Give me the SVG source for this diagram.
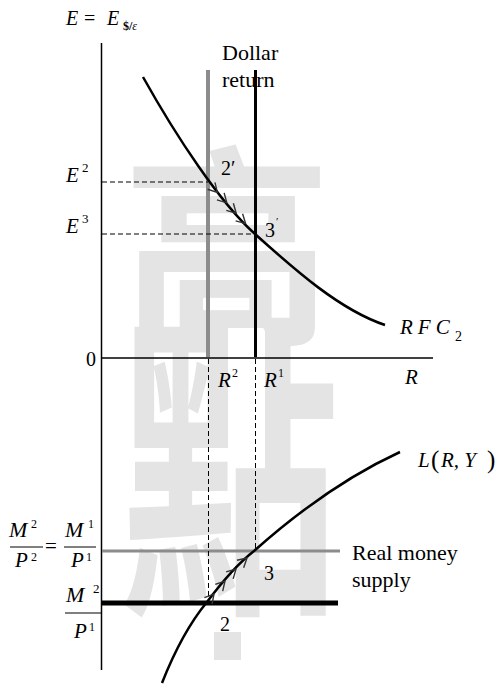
<svg xmlns="http://www.w3.org/2000/svg" width="498" height="688" viewBox="0 0 498 688">
<style>
  .ax { stroke: #000; stroke-width: 1.5; fill: none; }
  .dash { stroke: #000; stroke-width: 1; stroke-dasharray: 5 3; fill: none; }
  .curve { stroke: #000; stroke-width: 2.5; fill: none; }
  .chev { stroke: #333; stroke-width: 1.4; fill: none; }
  .bar { stroke: #000; stroke-width: 1; }
</style>
<defs>
  <path id="chev" d="M-9,-5 L0,0 L-9,5" class="chev"/>
</defs>
<rect width="498" height="688" fill="#fff"/>

<g id="watermark" fill="#e4e4e4">
  <text font-family="Noto Sans CJK SC" font-weight="700" text-anchor="middle" font-size="210" transform="translate(227,327.5) scale(1,1.02)">高</text>
  <text font-family="Noto Sans CJK SC" font-weight="700" text-anchor="middle" font-size="220" transform="translate(230,588.7) scale(1,1.453)">點</text>
  <rect x="214" y="632" width="27" height="28"/>
</g>

<g id="axes">
  <line class="ax" x1="101.5" y1="43" x2="101.5" y2="670"/>
  <line class="ax" x1="101" y1="358" x2="433" y2="358"/>
</g>

<g id="dollar-return">
  <line x1="208" y1="70" x2="208" y2="357" stroke="#8c8c8c" stroke-width="4"/>
  <line x1="255.5" y1="70" x2="255.5" y2="357" stroke="#000" stroke-width="3"/>
</g>

<g id="money-supply">
  <line x1="102" y1="551" x2="340" y2="551" stroke="#8c8c8c" stroke-width="3"/>
  <line x1="102" y1="603" x2="338" y2="603" stroke="#000" stroke-width="5"/>
</g>

<g id="connectors">
  <line class="dash" x1="102" y1="182" x2="208" y2="182"/>
  <line class="dash" x1="102" y1="234" x2="255" y2="234"/>
  <line class="dash" x1="208.5" y1="359" x2="208.5" y2="598"/>
  <line class="dash" x1="255.5" y1="359" x2="255.5" y2="550"/>
</g>

<g id="rfc-curve">
  <path class="curve" d="M143,77 C176,136 220,203 255,234 C295,270 340,310 385,325"/>
  <use href="#chev" transform="translate(217.4,192.4) rotate(47)"/>
  <use href="#chev" transform="translate(226.8,202.8) rotate(46)"/>
  <use href="#chev" transform="translate(236.2,213.2) rotate(45)"/>
  <use href="#chev" transform="translate(245.6,223.6) rotate(44)"/>
</g>

<g id="l-curve">
  <path class="curve" d="M162,683 C175,650 188,625 207,602 C222,582 236,565 254,551 C300,510 350,475 400,452"/>
  <use href="#chev" transform="translate(214,594) rotate(-50)"/>
  <use href="#chev" transform="translate(225,581) rotate(-48)"/>
  <use href="#chev" transform="translate(236,569) rotate(-45)"/>
  <use href="#chev" transform="translate(247,558) rotate(-42)"/>
</g>

<g id="labels" fill="#000">
  <text font-family="Liberation Serif" font-size="20" x="66" y="25" font-style="italic">E</text>
  <text font-family="Liberation Serif" font-size="20" x="84" y="25">=</text>
  <text font-family="Liberation Serif" font-size="20" x="107" y="25" font-style="italic">E</text>
  <text font-family="Liberation Serif" font-size="12" x="123" y="30" font-weight="bold">$/<tspan font-style="italic" font-weight="normal">ε</tspan></text>

  <text font-family="Liberation Serif" font-size="22" x="222" y="60">Dollar</text>
  <text font-family="Liberation Serif" font-size="22" x="222" y="87">return</text>

  <text font-family="Liberation Serif" font-size="21" x="66" y="182" font-style="italic">E</text>
  <text font-family="Liberation Serif" font-size="13" x="82" y="172">2</text>
  <text font-family="Liberation Serif" font-size="21" x="66" y="233" font-style="italic">E</text>
  <text font-family="Liberation Serif" font-size="13" x="82" y="223">3</text>

  <text font-family="Liberation Serif" font-size="20" x="221" y="175">2′</text>
  <text font-family="Liberation Serif" font-size="20" x="265" y="237">3</text>
  <text font-family="Liberation Serif" font-size="11" x="276" y="225">′</text>

  <text font-family="Liberation Serif" font-size="20" x="86" y="366">0</text>
  <text font-family="Liberation Serif" font-size="21" x="218" y="387" font-style="italic">R</text>
  <text font-family="Liberation Serif" font-size="12" x="232" y="377">2</text>
  <text font-family="Liberation Serif" font-size="21" x="264" y="387" font-style="italic">R</text>
  <text font-family="Liberation Serif" font-size="12" x="278" y="377">1</text>
  <text font-family="Liberation Serif" font-size="21" x="405" y="384" font-style="italic">R</text>

  <text font-family="Liberation Serif" font-size="21" x="400" y="334" font-style="italic" letter-spacing="5">RFC</text>
  <text font-family="Liberation Serif" font-size="14" x="455" y="341">2</text>

  <text font-family="Liberation Serif" font-size="21" x="418" y="467" font-style="italic">L</text>
  <text font-family="Liberation Serif" font-size="25" x="431" y="468">(</text>
  <text font-family="Liberation Serif" font-size="21" x="441" y="467" font-style="italic">R, Y</text>
  <text font-family="Liberation Serif" font-size="25" x="487" y="468">)</text>

  <text font-family="Liberation Serif" font-size="22" x="352" y="560">Real money</text>
  <text font-family="Liberation Serif" font-size="22" x="352" y="587">supply</text>

  <text font-family="Liberation Serif" font-size="20" x="264" y="580">3</text>
  <text font-family="Liberation Serif" font-size="20" x="220" y="631">2</text>
</g>

<g id="fractions" fill="#000">
  <text font-family="Liberation Serif" font-size="22" x="9" y="537" font-style="italic">M</text>
  <text font-family="Liberation Serif" font-size="12" x="31" y="528">2</text>
  <line class="bar" x1="10" y1="547" x2="43" y2="547"/>
  <text font-family="Liberation Serif" font-size="21" x="15" y="567" font-style="italic">P</text>
  <text font-family="Liberation Serif" font-size="12" x="31" y="561">2</text>
  <text font-family="Liberation Serif" font-size="21" x="45" y="553">=</text>
  <text font-family="Liberation Serif" font-size="22" x="65" y="537" font-style="italic">M</text>
  <text font-family="Liberation Serif" font-size="12" x="88" y="528">1</text>
  <line class="bar" x1="64" y1="547" x2="96" y2="547"/>
  <text font-family="Liberation Serif" font-size="21" x="71" y="567" font-style="italic">P</text>
  <text font-family="Liberation Serif" font-size="12" x="86" y="561">1</text>

  <text font-family="Liberation Serif" font-size="22" x="66" y="602" font-style="italic">M</text>
  <text font-family="Liberation Serif" font-size="13" x="93" y="593">2</text>
  <line class="bar" x1="65" y1="613" x2="102" y2="613"/>
  <text font-family="Liberation Serif" font-size="21" x="74" y="638" font-style="italic">P</text>
  <text font-family="Liberation Serif" font-size="12" x="89" y="631">1</text>
</g>
</svg>
